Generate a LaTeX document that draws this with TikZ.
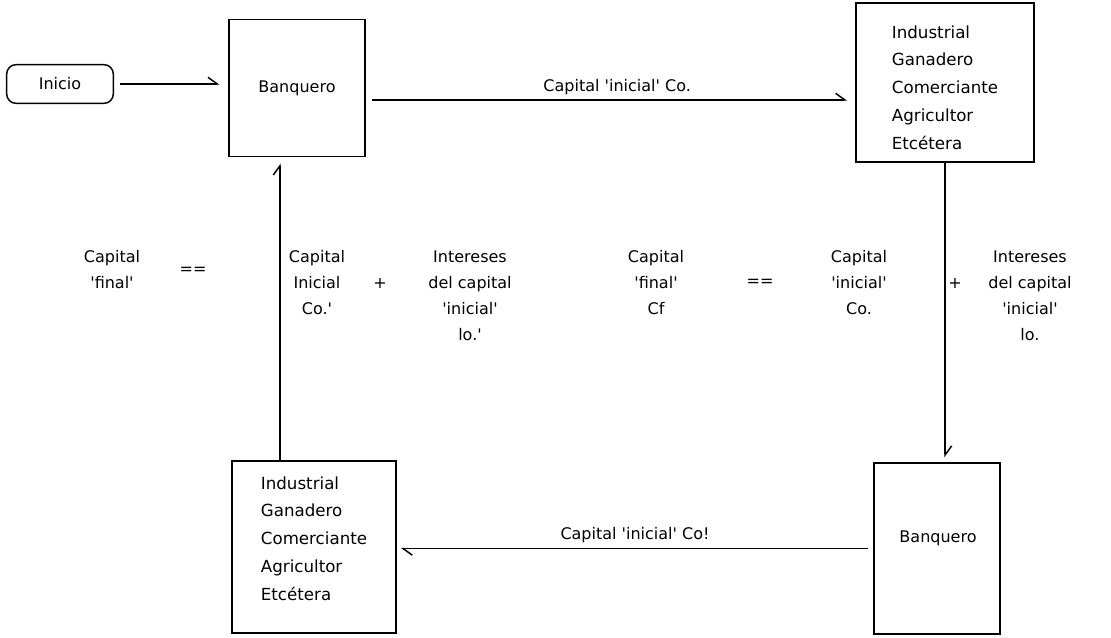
\documentclass[tikz,border=0pt]{standalone}
\usepackage{fontspec}
\setmainfont{DejaVu Sans}
\usetikzlibrary{arrows.meta,positioning}
\newcommand{\qt}[1]{\textquotesingle#1\textquotesingle}

\begin{document}
\begin{tikzpicture}[x=0.75pt,y=-0.75pt,line width=1.1pt]
        \tikzstyle{caja}=[draw,inner sep=0pt]
        \tikzstyle{lista}=[align=left,inner sep=0pt,font=\fontsize{12.5}{20.8}\selectfont]
        \tikzstyle{texto}=[align=center,inner sep=0pt,anchor=north,font=\fontsize{12}{19.5}\selectfont]
        \tikzstyle{signo}=[inner sep=0pt,font=\fontsize{12}{14}\selectfont]
        \tikzstyle{flecha}=[draw,-{Straight Barb[left,length=7pt,width=10pt]}]
        \tikzstyle{rotulo}=[above=3.5pt,inner sep=0pt,font=\fontsize{12}{14}\selectfont]
       \useasboundingbox (0,0) rectangle (1111,637);
       % cajas
       \node [caja,rounded corners=7pt,minimum width=80pt,minimum height=29pt,
              font=\fontsize{12}{14}\selectfont] (inicio) at (60,84) {Inicio};
       \node [caja,minimum width=102pt,minimum height=103pt,
              font=\fontsize{12}{14}\selectfont] (banq1) at (297,88) {Banquero};
       \node [caja,minimum width=133.5pt,minimum height=119pt] (oficios1) at (945,82.5) {};
       \node [lista] (lista1) at (945,87.5) {Industrial\\Ganadero\\Comerciante\\Agricultor\\Etcétera};
       \node [caja,minimum width=94.5pt,minimum height=128pt] (banq2) at (937,548.5) {};
       \node [signo] (banq2txt) at (938,538) {Banquero};
       \node [caja,minimum width=123pt,minimum height=129pt] (oficios2) at (314,547) {};
       \node [lista] (lista2) at (314,538.5) {Industrial\\Ganadero\\Comerciante\\Agricultor\\Etcétera};
       \coordinate (fila) at (0,100);
       \coordinate (col) at (280,0);
       % flechas
       \path (inicio.east) edge [flecha,shorten <=4.5pt,shorten >=6.5pt] (inicio.east -| banq1.west);
       \path (banq1.east |- fila) edge [flecha,shorten <=5pt,shorten >=6pt]
            node[rotulo,xshift=5pt] {Capital \qt{inicial} Co.} (oficios1.west |- fila);
       \path (oficios1.south) edge [flecha,shorten >=3.75pt] (oficios1.south |- banq2.north);
       \path (banq2.west) edge [flecha,shorten <=3.75pt,shorten >=3pt]
            node[rotulo] {Capital \qt{inicial} Co!} (banq2.west -| oficios2.east);
       \path (oficios2.north -| col) edge [flecha,shorten >=4.5pt] (banq1.south -| col);
       % ecuacion
       \node [texto] (cfinal1) at (112,250) {Capital\\\qt{final}};
       \node [signo] (igual1) at (193,271) {==};
       \node [texto] (cinicial1) at (317,250) {Capital\\Inicial\\Co.\textquotesingle};
       \node [signo] (mas1) at (380,283) {+};
       \node [texto] (interes1) at (470,250) {Intereses\\del capital\\\qt{inicial}\\lo.\textquotesingle};
       \node [texto] (cfinal2) at (656,250) {Capital\\\qt{final}\\Cf};
       \node [signo] (igual2) at (760,283) {==};
       \node [texto] (cinicial2) at (859,250) {Capital\\\qt{inicial}\\Co.};
       \node [signo] (mas2) at (955,283) {+};
       \node [texto] (interes2) at (1030,250) {Intereses\\del capital\\\qt{inicial}\\lo.};
      \end{tikzpicture}
\end{document}
